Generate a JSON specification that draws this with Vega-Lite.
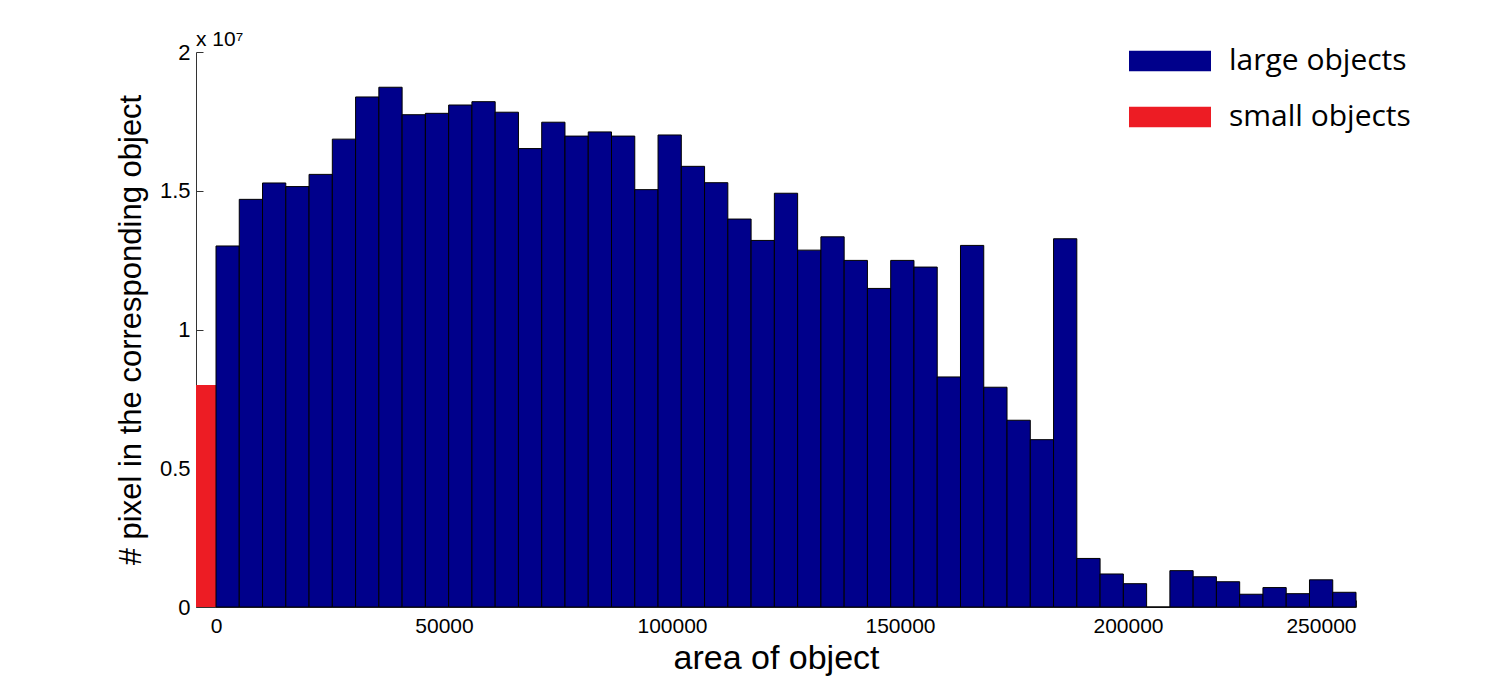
{
  "$schema": "https://vega.github.io/schema/vega-lite/v6.json",
  "width": 1160,
  "height": 555,
  "autosize": {"type": "none"},
  "padding": {"left": 196, "top": 52, "right": 144, "bottom": 76},
  "background": "white",
  "config": {
    "view": {"stroke": null},
    "axis": {"grid": false, "domainColor": "#333333", "tickColor": "#333333", "labelColor": "black", "titleColor": "black", "labelFont": "Liberation Sans", "titleFont": "Liberation Sans", "titleFontWeight": "normal"}
  },
  "title": {"text": "x 10⁷", "anchor": "start", "frame": "group", "font": "Liberation Sans", "fontSize": 21, "fontWeight": "normal", "color": "black", "baseline": "alphabetic", "offset": -16, "dy": 31},
  "data": {
    "values": [
      {"bin_start": -4386, "bin_end": 0, "pixels": 8000000, "type": "small objects"},
      {"bin_start": 0, "bin_end": 5102, "pixels": 13010000, "type": "large objects"},
      {"bin_start": 5102, "bin_end": 10204, "pixels": 14690000, "type": "large objects"},
      {"bin_start": 10204, "bin_end": 15306, "pixels": 15280000, "type": "large objects"},
      {"bin_start": 15306, "bin_end": 20408, "pixels": 15150000, "type": "large objects"},
      {"bin_start": 20408, "bin_end": 25510, "pixels": 15590000, "type": "large objects"},
      {"bin_start": 25510, "bin_end": 30612, "pixels": 16860000, "type": "large objects"},
      {"bin_start": 30612, "bin_end": 35714, "pixels": 18380000, "type": "large objects"},
      {"bin_start": 35714, "bin_end": 40816, "pixels": 18730000, "type": "large objects"},
      {"bin_start": 40816, "bin_end": 45918, "pixels": 17740000, "type": "large objects"},
      {"bin_start": 45918, "bin_end": 51020, "pixels": 17790000, "type": "large objects"},
      {"bin_start": 51020, "bin_end": 56122, "pixels": 18090000, "type": "large objects"},
      {"bin_start": 56122, "bin_end": 61224, "pixels": 18210000, "type": "large objects"},
      {"bin_start": 61224, "bin_end": 66327, "pixels": 17830000, "type": "large objects"},
      {"bin_start": 66327, "bin_end": 71429, "pixels": 16520000, "type": "large objects"},
      {"bin_start": 71429, "bin_end": 76531, "pixels": 17470000, "type": "large objects"},
      {"bin_start": 76531, "bin_end": 81633, "pixels": 16970000, "type": "large objects"},
      {"bin_start": 81633, "bin_end": 86735, "pixels": 17120000, "type": "large objects"},
      {"bin_start": 86735, "bin_end": 91837, "pixels": 16970000, "type": "large objects"},
      {"bin_start": 91837, "bin_end": 96939, "pixels": 15040000, "type": "large objects"},
      {"bin_start": 96939, "bin_end": 102041, "pixels": 17010000, "type": "large objects"},
      {"bin_start": 102041, "bin_end": 107143, "pixels": 15880000, "type": "large objects"},
      {"bin_start": 107143, "bin_end": 112245, "pixels": 15290000, "type": "large objects"},
      {"bin_start": 112245, "bin_end": 117347, "pixels": 13980000, "type": "large objects"},
      {"bin_start": 117347, "bin_end": 122449, "pixels": 13210000, "type": "large objects"},
      {"bin_start": 122449, "bin_end": 127551, "pixels": 14910000, "type": "large objects"},
      {"bin_start": 127551, "bin_end": 132653, "pixels": 12860000, "type": "large objects"},
      {"bin_start": 132653, "bin_end": 137755, "pixels": 13340000, "type": "large objects"},
      {"bin_start": 137755, "bin_end": 142857, "pixels": 12490000, "type": "large objects"},
      {"bin_start": 142857, "bin_end": 147959, "pixels": 11480000, "type": "large objects"},
      {"bin_start": 147959, "bin_end": 153061, "pixels": 12490000, "type": "large objects"},
      {"bin_start": 153061, "bin_end": 158163, "pixels": 12250000, "type": "large objects"},
      {"bin_start": 158163, "bin_end": 163265, "pixels": 8290000, "type": "large objects"},
      {"bin_start": 163265, "bin_end": 168367, "pixels": 13030000, "type": "large objects"},
      {"bin_start": 168367, "bin_end": 173469, "pixels": 7920000, "type": "large objects"},
      {"bin_start": 173469, "bin_end": 178571, "pixels": 6730000, "type": "large objects"},
      {"bin_start": 178571, "bin_end": 183673, "pixels": 6030000, "type": "large objects"},
      {"bin_start": 183673, "bin_end": 188776, "pixels": 13270000, "type": "large objects"},
      {"bin_start": 188776, "bin_end": 193878, "pixels": 1750000, "type": "large objects"},
      {"bin_start": 193878, "bin_end": 198980, "pixels": 1190000, "type": "large objects"},
      {"bin_start": 198980, "bin_end": 204082, "pixels": 840000, "type": "large objects"},
      {"bin_start": 204082, "bin_end": 209184, "pixels": 0, "type": "large objects"},
      {"bin_start": 209184, "bin_end": 214286, "pixels": 1310000, "type": "large objects"},
      {"bin_start": 214286, "bin_end": 219388, "pixels": 1090000, "type": "large objects"},
      {"bin_start": 219388, "bin_end": 224490, "pixels": 910000, "type": "large objects"},
      {"bin_start": 224490, "bin_end": 229592, "pixels": 460000, "type": "large objects"},
      {"bin_start": 229592, "bin_end": 234694, "pixels": 700000, "type": "large objects"},
      {"bin_start": 234694, "bin_end": 239796, "pixels": 480000, "type": "large objects"},
      {"bin_start": 239796, "bin_end": 244898, "pixels": 980000, "type": "large objects"},
      {"bin_start": 244898, "bin_end": 250000, "pixels": 530000, "type": "large objects"}
    ]
  },
  "mark": {"type": "bar", "stroke": "black", "strokeWidth": 1},
  "encoding": {
    "x": {
      "field": "bin_start", "type": "quantitative",
      "scale": {"domain": [-4386, 250000], "nice": false, "zero": false},
      "axis": {"values": [0, 50000, 100000, 150000, 200000, 250000], "format": "d", "labelFontSize": 21, "labelPadding": 15, "tickSize": -7, "title": "area of object", "titleFontSize": 34, "titlePadding": 5}
    },
    "x2": {"field": "bin_end"},
    "y": {
      "field": "pixels", "type": "quantitative",
      "scale": {"domain": [0, 20000000], "nice": false},
      "axis": {"values": [0, 5000000, 10000000, 15000000, 20000000], "labelExpr": "format(datum.value / 10000000, '~g')", "labelFontSize": 22, "labelPadding": 13, "tickSize": -7, "title": "# pixel in the corresponding object", "titleFontSize": 31, "titlePadding": 12}
    },
    "y2": {"datum": 0},
    "color": {
      "field": "type", "type": "nominal",
      "scale": {"domain": ["large objects", "small objects"], "range": ["#00008B", "#ED1C24"]},
      "legend": {"title": null, "orient": "none", "legendX": 933, "legendY": -32, "padding": 0, "symbolType": "M-1,-0.25H1V0.25H-1Z", "symbolSize": 6724, "symbolStrokeWidth": 0, "symbolOpacity": 1, "labelFont": "Open Sans", "labelFontSize": 30, "labelColor": "black", "labelOffset": 18, "labelLimit": 400, "rowPadding": -1, "labelBaseline": "middle"}
    },
    "strokeWidth": {"condition": {"test": "datum.type === 'small objects'", "value": 0}, "value": 1}
  }
}
